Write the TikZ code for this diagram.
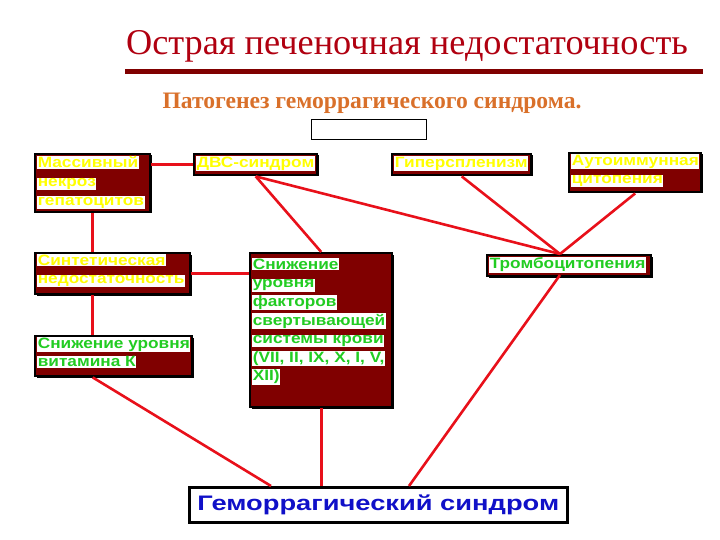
\documentclass[tikz,border=0pt]{standalone}
\usepackage{fontspec}
\usetikzlibrary{calc}
\setmainfont{Liberation Serif}
\newfontfamily\boxfont[FakeStretch=1.15]{Liberation Sans Bold}
\newfontfamily\gemfont[FakeStretch=1.3]{Liberation Sans Bold}
\newfontfamily\titlefont{Liberation Serif}
\newfontfamily\subfont{Liberation Serif Bold}
\definecolor{maroon}{HTML}{800000}
\definecolor{linered}{HTML}{E8101A}
\definecolor{txyellow}{HTML}{FFFF00}
\definecolor{txgreen}{HTML}{22CC22}
\definecolor{txblue}{HTML}{1010C8}
\definecolor{titlered}{HTML}{B00010}
\definecolor{suborange}{HTML}{D9702A}
\newcommand{\hl}[1]{{\setlength{\fboxsep}{0.6pt}\colorbox{white}{#1}}}
\tikzset{
  box/.style={draw=black, line width=2.4pt, fill=maroon, anchor=north west, inner sep=0pt,
    minimum width=#1},
  txt/.style={anchor=north west, inner sep=0pt, align=left, font=\boxfont\fontsize{15}{18.6}\selectfont},
  conn/.style={draw=linered, line width=2.6pt},
}
\begin{document}
\begin{tikzpicture}[x=1pt, y=-1pt]
\useasboundingbox (0,0) rectangle (720,540);
% title
\node[anchor=base, text=titlered, font=\titlefont\fontsize{36.3}{40}\selectfont, inner sep=0pt] (title) at (407,55) {Острая печеночная недостаточность};
\draw[maroon, line width=5pt] (125,72) -- (703,72);
\node[anchor=base, text=suborange, font=\subfont\fontsize{23.6}{26}\selectfont, inner sep=0pt] (sub) at (372,109) {Патогенез геморрагического синдрома.};
\node[draw=black, line width=1.2pt, minimum width=115pt, minimum height=20pt, anchor=north west, inner sep=0pt] (empty) at (311,119) {};
% boxes
\newcommand{\mkbox}[5]{% name x y w h
  \fill[black] (#2+2.5,#3+2.5) rectangle ++(#4,#5);
  \node[box=#4pt, minimum height=#5pt] (#1) at (#2,#3) {};
}
\mkbox{mass}{34}{153}{115}{58}
\mkbox{dvs}{193}{153}{123}{21}
\mkbox{giper}{391}{153}{139}{21}
\mkbox{auto}{568}{152}{132}{39}
\mkbox{sint}{34}{252}{155}{41}
\mkbox{vitk}{34}{335}{157}{40}
\mkbox{fact}{249}{252}{142}{154}
\mkbox{tromb}{486}{254}{164}{21}
% gemor
\fill[black] (190.5,488.5) rectangle ++(378,35);
\node[draw=black, line width=2.6pt, fill=white, anchor=north west, minimum width=378pt, minimum height=35pt, inner sep=0pt] (gemor) at (188,486) {};
% texts
\node[txt, text=txyellow] (t1) at ($(mass.north west)+(3,3)$) {\hl{Массивный}\\\hl{некроз}\\\hl{гепатоцитов}};
\node[txt, text=txyellow] (t2) at ($(dvs.north west)+(3,3)$) {\hl{ДВС-синдром}};
\node[txt, text=txyellow] (t3) at ($(giper.north west)+(3,3)$) {\hl{Гиперспленизм}};
\node[txt, text=txyellow] (t4) at ($(auto.north west)+(3,2)$) {\hl{Аутоиммунная}\\\hl{цитопения}};
\node[txt, text=txyellow] (t5) at ($(sint.north west)+(3,2)$) {\hl{Синтетическая}\\\hl{недостаточность}};
\node[txt, text=txgreen] (t6) at ($(vitk.north west)+(3,2)$) {\hl{Снижение уровня}\\\hl{витамина К}};
\node[txt, text=txgreen] (t7) at ($(fact.north west)+(3,6)$) {\hl{Снижение}\\\hl{уровня}\\\hl{факторов}\\\hl{свертывающей}\\\hl{системы крови}\\\hl{(VII, II, IX, X, I, V,}\\\hl{XII)}};
\node[txt, text=txgreen] (t8) at ($(tromb.north west)+(3,3)$) {\hl{Тромбоцитопения}};
\node[anchor=center, inner sep=0pt, text=txblue, font=\gemfont\fontsize{21}{24}\selectfont] (t9) at (gemor.center) {Геморрагический синдром};
% connectors
\coordinate (tr) at (560,254);
\coordinate (trb) at (560,275);
\draw[conn] (dvs.west) -- (dvs.west -| mass.east);
\draw[conn] (mass.south) -- (mass.south |- sint.north);
\draw[conn] (sint.east) -- (sint.east -| fact.west);
\draw[conn] (sint.south -| mass.south) -- (vitk.north -| mass.south);
\draw[conn] (dvs.south) -- (fact.north);
\draw[conn] (dvs.south) -- (tr);
\draw[conn] (giper.south) -- (tr);
\draw[conn] (auto.south) -- (tr);
\coordinate (g1) at (271,486);
\coordinate (g3) at (409,486);
\draw[conn] (vitk.south -| mass.south) -- (g1);
\draw[conn] (fact.south) -- (fact.south |- gemor.north);
\draw[conn] (trb) -- (g3);
\end{tikzpicture}
\end{document}
